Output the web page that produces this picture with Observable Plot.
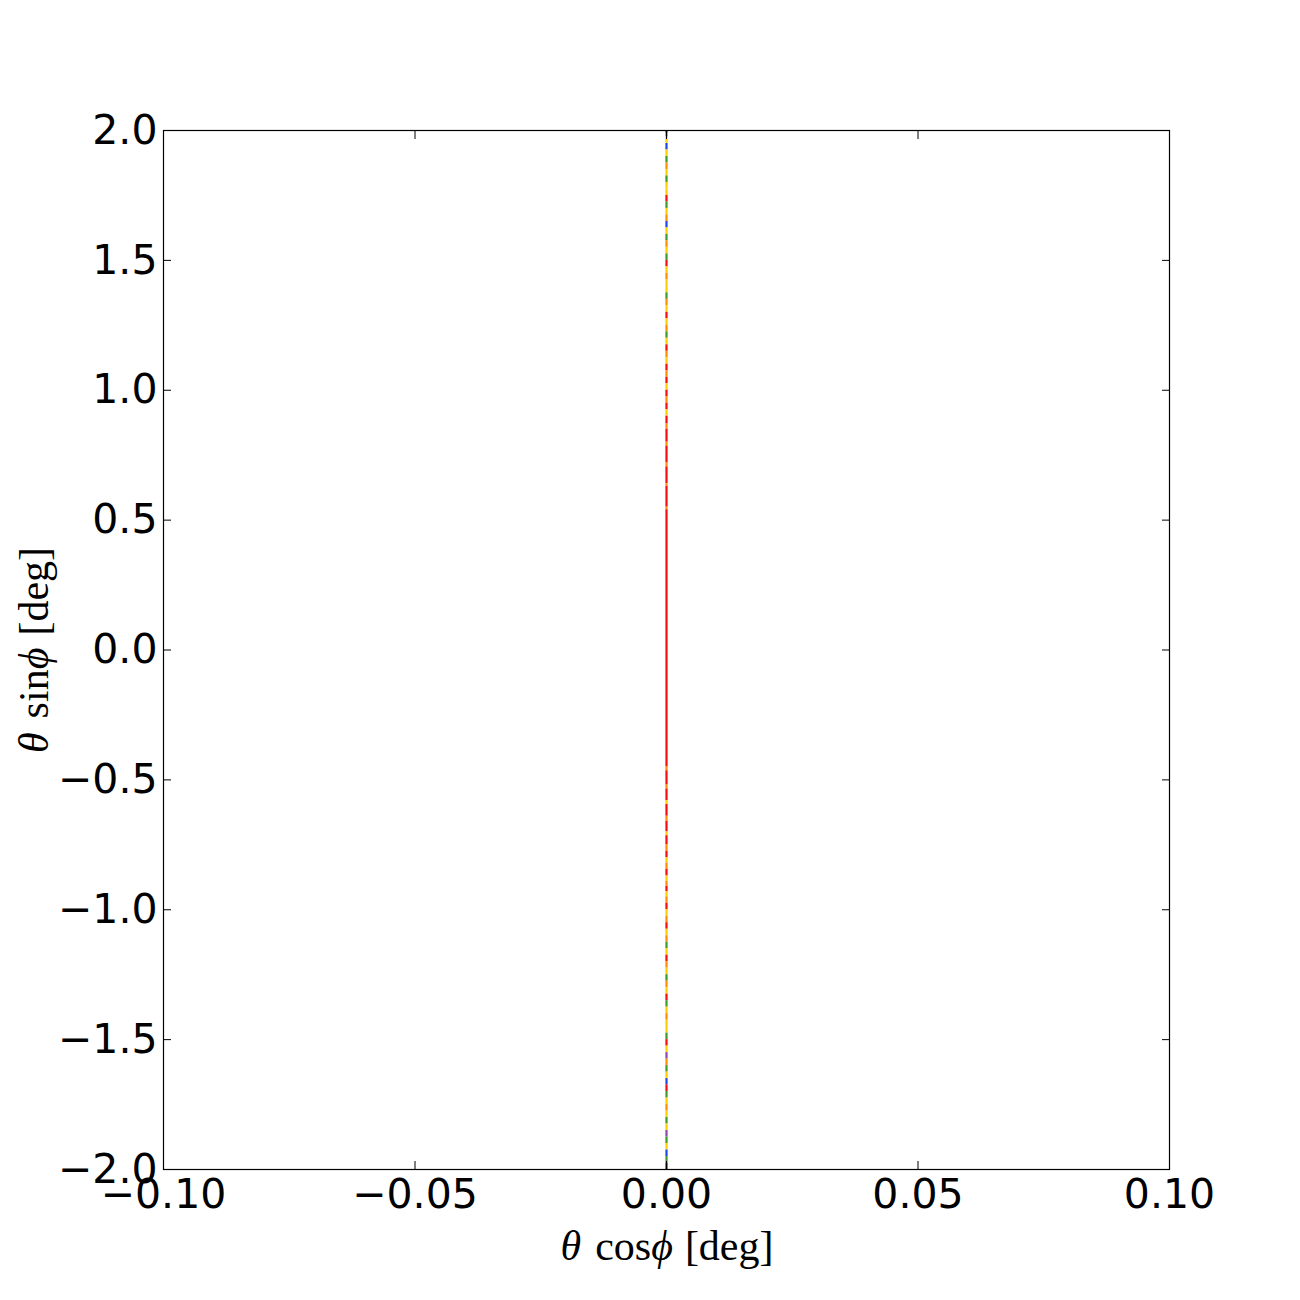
<!DOCTYPE html>
<html><head><meta charset="utf-8">
<script src="https://cdn.jsdelivr.net/npm/d3@7"></script>
<script src="https://cdn.jsdelivr.net/npm/@observablehq/plot@0.6"></script>
<style>body{margin:0;background:#fff}</style>
</head><body><div id="chart"></div>
<script>
// Tick values
const xTicks = [-0.10, -0.05, 0.00, 0.05, 0.10];
const yTicks = [-2.0, -1.5, -1.0, -0.5, 0.0, 0.5, 1.0, 1.5, 2.0];

// Points along theta*cos(phi) = 0, read as runs: start (top) of each run in theta*sin(phi)
const segStart = [
  2.000, 1.990, 1.975, 1.950, 1.925, 1.900, 1.875, 1.850, 1.825, 1.800,
  1.775, 1.750, 1.725, 1.700, 1.675, 1.650, 1.625, 1.600, 1.575, 1.550,
  1.525, 1.500, 1.475, 1.450, 1.425, 1.400, 1.375, 1.350, 1.325, 1.300,
  1.275, 1.250, 1.225, 1.200, 1.175, 1.150, 1.125, 1.100, 1.075, 1.050,
  1.025, 1.000, 0.975, 0.950, 0.925, 0.900, 0.870, 0.850, 0.800, 0.785,
  0.720, 0.705, 0.640, 0.630, 0.550, 0.540,
  -0.450, -0.465, -0.520, -0.535, -0.580, -0.595, -0.640, -0.660, -0.700, -0.715,
  -0.750, -0.775, -0.800, -0.820, -0.845, -0.870, -0.890, -0.910, -0.930, -0.950,
  -0.975, -1.000, -1.025, -1.050, -1.075, -1.100, -1.125, -1.150, -1.175, -1.200,
  -1.225, -1.250, -1.275, -1.300, -1.325, -1.350, -1.375, -1.400, -1.425, -1.450,
  -1.475, -1.500, -1.525, -1.550, -1.575, -1.600, -1.625, -1.650, -1.675, -1.700,
  -1.725, -1.750, -1.775, -1.800, -1.825, -1.850, -1.875, -1.900, -1.925, -1.950,
  -1.975
];
const segEnd = -2.0;
// Colour class of each run (r red, o orange, y yellow, g green, b blue, p purple, k dark)
const segColor = [
  "k","g","y","b","y","g","o","y","g","y",
  "y","r","g","y","o","b","y","g","o","y",
  "g","r","y","o","y","y","g","o","y","r",
  "y","o","g","y","r","o","y","r","o","r",
  "y","r","o","r","y","r","o","r","o","r",
  "o","r","o","r","o","r",
  "o","r","o","r","y","r","o","r","y","r",
  "o","r","y","o","r","y","o","r","y","o",
  "r","y","o","r","y","o","g","y","r","o",
  "y","g","o","y","r","g","y","o","y","y",
  "g","r","y","p","o","g","y","b","r","g",
  "y","o","y","g","y","p","g","y","b","g",
  "k"
];
const colorCodes = ["r","o","y","g","b","p","k"];
const colorValues = ["#fa0a0a","#ff8c00","#ffcc00","#3c9a28","#2046e8","#8a4aa8","#2a2a14"];

const segments = segStart.map((y1, i) => ({
  x: 0,
  y1,
  y2: i + 1 < segStart.length ? segStart[i + 1] : segEnd,
  c: segColor[i]
}));

const plot = Plot.plot({
  width: 1300, height: 1300,
  marginLeft: 163, marginRight: 131, marginTop: 130, marginBottom: 131,
  style: {fontFamily: "'DejaVu Sans', sans-serif", fontSize: "41px", background: "white", color: "black"},
  x: {domain: [-0.1, 0.1]},
  y: {domain: [-2, 2]},
  color: {type: "ordinal", domain: colorCodes, range: colorValues},
  marks: [
    Plot.ruleX(segments, {x: "x", y1: "y1", y2: "y2", stroke: "c", strokeWidth: 2.2}),
    Plot.frame({stroke: "black", strokeWidth: 1.2}),
    Plot.axisX({ticks: xTicks, anchor: "bottom", tickSize: -8, fill: "none", label: null}),
    Plot.axisX({ticks: xTicks, anchor: "top", tickSize: -8, fill: "none", label: null}),
    Plot.axisY({ticks: yTicks, anchor: "left", tickSize: -8, fill: "none", label: null}),
    Plot.axisY({ticks: yTicks, anchor: "right", tickSize: -8, fill: "none", label: null}),
    Plot.axisX({ticks: xTicks, anchor: "bottom", tickSize: 0, tickPadding: 9, tickFormat: d3.format(".2f"), label: null, fontSize: 41}),
    Plot.axisY({ticks: yTicks, anchor: "left", tickSize: 0, tickPadding: 6, tickFormat: d3.format(".1f"), label: null, fontSize: 41})
  ]
});

const svg = d3.select(plot);
const serif = "'Liberation Serif', 'DejaVu Serif', serif";
const xl = svg.append("text")
  .attr("x", 667).attr("y", 1260)
  .attr("text-anchor", "middle")
  .attr("font-family", serif).attr("font-size", 42).attr("fill", "black");
xl.append("tspan").attr("font-style", "italic").text("θ");
xl.append("tspan").attr("dx", 14).text("cos");
xl.append("tspan").attr("font-style", "italic").text("ϕ");
xl.append("tspan").attr("dx", 12).text("[deg]");

const yl = svg.append("text")
  .attr("transform", "translate(48,650) rotate(-90)")
  .attr("text-anchor", "middle")
  .attr("font-family", serif).attr("font-size", 42).attr("fill", "black");
yl.append("tspan").attr("font-style", "italic").text("θ");
yl.append("tspan").attr("dx", 14).text("sin");
yl.append("tspan").attr("font-style", "italic").text("ϕ");
yl.append("tspan").attr("dx", 12).text("[deg]");

document.getElementById("chart").appendChild(plot);
</script>
</body></html>
